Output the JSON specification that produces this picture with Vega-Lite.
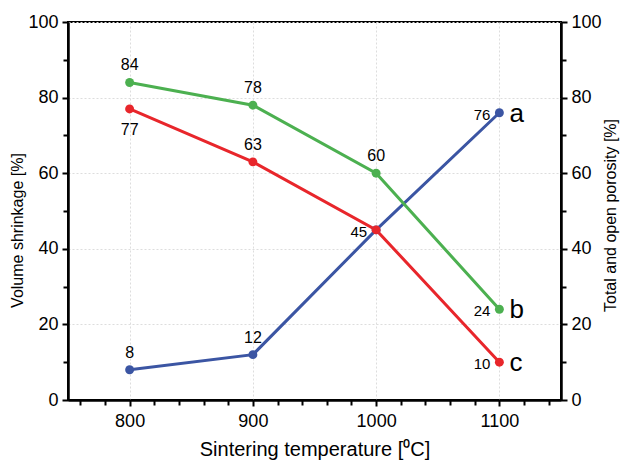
{
  "$schema": "https://vega.github.io/schema/vega-lite/v6.json",
  "width": 493,
  "height": 378,
  "autosize": {"type": "none"},
  "padding": {"left": 68, "top": 22, "right": 60, "bottom": 61},
  "background": "white",
  "config": {
    "font": "Liberation Sans",
    "view": {"stroke": "black", "strokeWidth": 2},
    "axis": {
      "domainColor": "black", "domainWidth": 2,
      "tickColor": "black", "tickWidth": 2, "tickSize": 6,
      "labelFont": "Liberation Sans", "labelFontSize": 18, "labelColor": "black",
      "titleFont": "Liberation Sans", "titleFontWeight": "normal", "titleColor": "black",
      "gridColor": "#dddddd", "gridDash": [2, 2], "gridWidth": 1
    }
  },
  "data": {
    "values": [
      {"t": 800, "series": "a", "v": 8, "pos": "above"},
      {"t": 900, "series": "a", "v": 12, "pos": "above"},
      {"t": 1000, "series": "a", "v": 45, "pos": "left"},
      {"t": 1100, "series": "a", "v": 76, "pos": "left"},
      {"t": 800, "series": "b", "v": 84, "pos": "above"},
      {"t": 900, "series": "b", "v": 78, "pos": "above"},
      {"t": 1000, "series": "b", "v": 60, "pos": "above"},
      {"t": 1100, "series": "b", "v": 24, "pos": "left"},
      {"t": 800, "series": "c", "v": 77, "pos": "below"},
      {"t": 900, "series": "c", "v": 63, "pos": "above"},
      {"t": 1000, "series": "c", "v": 45, "pos": "none"},
      {"t": 1100, "series": "c", "v": 10, "pos": "left"}
    ]
  },
  "encoding": {
    "x": {"field": "t", "type": "quantitative", "scale": {"domain": [750, 1150], "nice": false, "zero": false}},
    "y": {"field": "v", "type": "quantitative", "scale": {"domain": [0, 100], "nice": false}}
  },
  "layer": [
    {
      "mark": {"type": "line", "strokeWidth": 3},
      "encoding": {
        "x": {"field": "t", "type": "quantitative", "axis": {"orient": "bottom", "values": [800, 900, 1000, 1100], "format": "d", "grid": true, "title": "Sintering temperature [⁰C]", "titleFontSize": 20, "titlePadding": 9, "labelPadding": 6}},
        "y": {"field": "v", "type": "quantitative", "axis": {"orient": "left", "values": [0, 20, 40, 60, 80, 100], "grid": true, "title": "Volume shrinkage [%]", "titleFontSize": 16, "titlePadding": 2, "titleY": 208, "labelPadding": 4}},
        "color": {"field": "series", "type": "nominal", "legend": null, "scale": {"domain": ["a", "b", "c"], "range": ["#3b55a3", "#4cb050", "#e8262b"]}}
      }
    },
    {
      "mark": {"type": "point", "filled": true, "size": 80, "opacity": 1},
      "encoding": {
        "x": {"field": "t", "type": "quantitative", "axis": null},
        "y": {"field": "v", "type": "quantitative", "axis": null},
        "color": {"field": "series", "type": "nominal", "legend": null}
      }
    },
    {
      "transform": [{"filter": "datum.pos == 'above'"}],
      "mark": {"type": "text", "fontSize": 16, "dy": -17, "color": "black"},
      "encoding": {
        "x": {"field": "t", "type": "quantitative", "axis": null},
        "y": {"field": "v", "type": "quantitative", "axis": null},
        "text": {"field": "v", "type": "quantitative"}
      }
    },
    {
      "transform": [{"filter": "datum.pos == 'below'"}],
      "mark": {"type": "text", "fontSize": 16, "dy": 21, "color": "black"},
      "encoding": {
        "x": {"field": "t", "type": "quantitative", "axis": null},
        "y": {"field": "v", "type": "quantitative", "axis": null},
        "text": {"field": "v", "type": "quantitative"}
      }
    },
    {
      "transform": [{"filter": "datum.pos == 'left'"}],
      "mark": {"type": "text", "fontSize": 15, "align": "right", "dx": -9, "dy": 2, "color": "black"},
      "encoding": {
        "x": {"field": "t", "type": "quantitative", "axis": null},
        "y": {"field": "v", "type": "quantitative", "axis": null},
        "text": {"field": "v", "type": "quantitative"}
      }
    },
    {
      "transform": [{"filter": "datum.t == 1100"}],
      "mark": {"type": "text", "fontSize": 26, "align": "left", "dx": 10, "dy": 1, "color": "black"},
      "encoding": {
        "x": {"field": "t", "type": "quantitative", "axis": null},
        "y": {"field": "v", "type": "quantitative", "axis": null},
        "text": {"field": "series", "type": "nominal"}
      }
    },
    {
      "mark": {"type": "point", "opacity": 0},
      "encoding": {
        "x": {"field": "t", "type": "quantitative", "axis": {"orient": "bottom", "values": [760, 780, 820, 840, 860, 880, 920, 940, 960, 980, 1020, 1040, 1060, 1080, 1120, 1140], "labels": false, "grid": false, "title": null, "tickSize": 5}},
        "y": {"field": "v", "type": "quantitative", "axis": {"orient": "left", "values": [10, 30, 50, 70, 90], "labels": false, "grid": false, "title": null, "tickSize": 5}}
      }
    },
    {
      "mark": {"type": "point", "opacity": 0},
      "encoding": {
        "x": {"field": "t", "type": "quantitative", "axis": null},
        "y": {"field": "v", "type": "quantitative", "axis": {"orient": "right", "values": [0, 20, 40, 60, 80, 100], "grid": false, "title": "Total and open porosity [%]", "titleFontSize": 16, "titleAngle": 270, "titleBaseline": "top", "titlePadding": 1, "titleY": 193, "labelPadding": 4}}
      }
    },
    {
      "mark": {"type": "point", "opacity": 0},
      "encoding": {
        "x": {"field": "t", "type": "quantitative", "axis": null},
        "y": {"field": "v", "type": "quantitative", "axis": {"orient": "right", "values": [10, 30, 50, 70, 90], "labels": false, "grid": false, "title": null, "tickSize": 5}}
      }
    }
  ],
  "resolve": {"axis": {"x": "independent", "y": "independent"}}
}
